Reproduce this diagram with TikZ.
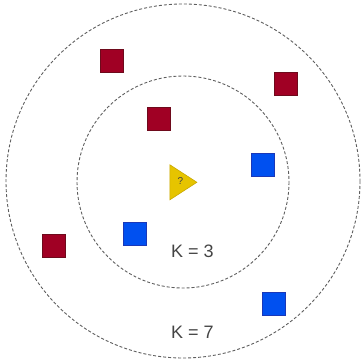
\documentclass[tikz,border=0pt]{standalone}
\usepackage{fontspec}
\setsansfont{Liberation Sans}
\usepackage{tikz}
\usetikzlibrary{shapes.geometric}
\definecolor{redpt}{HTML}{A00024}
\definecolor{redln}{HTML}{6E0A1C}
\definecolor{bluept}{HTML}{0050F0}
\definecolor{blueln}{HTML}{1A38B8}
\definecolor{qfill}{HTML}{E6C400}
\definecolor{qline}{HTML}{C9A800}
\definecolor{ringln}{HTML}{5E5E5E}
\definecolor{labtx}{HTML}{444444}
\begin{document}
\begin{tikzpicture}[
      x=1pt, y=-1pt,
      pt/.style={draw, line width=0.8pt, minimum size=23pt, inner sep=0pt, anchor=center},
      R/.style={pt, fill=redpt, draw=redln}, B/.style={pt, fill=bluept, draw=blueln},
      ring/.style={draw=ringln, line width=0.9pt, dash pattern=on 3pt off 2pt},
      klab/.style={font=\sffamily\fontsize{18}{20}\selectfont, text=labtx, inner sep=0pt},
    ]
    \useasboundingbox (0,0) rectangle (363,358);
    % neighbourhoods
    \draw[ring] (183,181) circle[radius=177];
    \draw[ring] (183,182) circle[radius=106];
    % class A points
    \foreach \x/\y [count=\i] in {112/61, 286/84, 158.5/118.7, 54/246}
      \node[R] (r\i) at (\x,\y) {};
    % class B points
    \foreach \x/\y [count=\i] in {263/165, 135/234, 274.3/304}
      \node[B] (b\i) at (\x,\y) {};
    % query point
    \node[isosceles triangle, isosceles triangle stretches, fill=qfill, draw=qline,
      line width=0.6pt, minimum width=35pt, minimum height=27pt, inner sep=0pt,
      anchor=west] (q) at (169.6,182.3) {};
    \node[font=\sffamily\fontsize{10}{11}\selectfont, text=labtx, inner sep=0pt]
      (qm) at (180.5,181) {?};
    % labels
    \node[klab] (k3) at (192.5,251.5) {K = 3};
    \node[klab] (k7) at (192.5,332.5) {K = 7};
  \end{tikzpicture}
\end{document}
